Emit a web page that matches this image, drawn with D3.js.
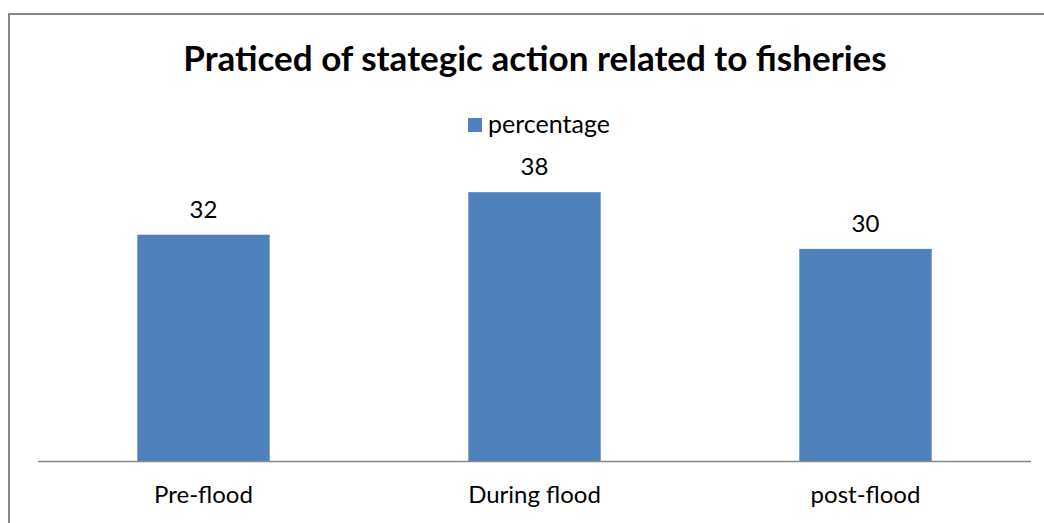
<!DOCTYPE html>
<html>
<head>
<meta charset="utf-8">
<script src="https://cdn.jsdelivr.net/npm/d3@7"></script>
<style>
  html, body { margin: 0; padding: 0; background: #fff; }
  svg { display: block; }
  text { font-family: Lato, "Open Sans", sans-serif; fill: #000; }
</style>
</head>
<body>
<svg id="chart" width="1044" height="523"></svg>
<script>
// Share of respondents practising strategic actions, by flood phase
const categories = ["Pre-flood", "During flood", "post-flood"];
const percentage = [32, 38, 30];
const seriesName = "percentage";
const titleText = "Praticed of stategic action related to fisheries";

const svg = d3.select("#chart");
const W = 1044, H = 523;

// outer chart frame (runs off the right and bottom edges)
svg.append("rect")
  .attr("x", 9).attr("y", 14)
  .attr("width", W + 20).attr("height", H + 20)
  .attr("fill", "#fff")
  .attr("stroke", "#868686")
  .attr("stroke-width", 2);

const plot = { left: 38, right: 1031, top: 178, bottom: 461.5 };

const x = d3.scaleBand()
  .domain(categories)
  .range([plot.left, plot.right])
  .paddingInner(0.6)
  .paddingOuter(0.3);

const y = d3.scaleLinear()
  .domain([0, 40])
  .range([plot.bottom, plot.top]);

const data = categories.map((c, i) => ({ cat: c, val: percentage[i] }));

// bars
svg.append("g").selectAll("rect")
  .data(data)
  .join("rect")
  .attr("x", d => x(d.cat))
  .attr("y", d => y(d.val))
  .attr("width", x.bandwidth())
  .attr("height", d => y(0) - y(d.val))
  .attr("fill", "#4F81BD");

// value labels
svg.append("g").selectAll("text")
  .data(data)
  .join("text")
  .attr("x", d => x(d.cat) + x.bandwidth() / 2)
  .attr("y", d => y(d.val) - 17)
  .attr("text-anchor", "middle")
  .attr("font-size", 24)
  .attr("fill", "#222")
  .text(d => d.val);

// category axis
const xAxis = svg.append("g")
  .attr("transform", `translate(0,${plot.bottom})`)
  .call(d3.axisBottom(x).tickSize(0).tickPadding(24).tickSizeOuter(0));
xAxis.select(".domain")
  .attr("stroke", "#868686")
  .attr("stroke-width", 1.3)
  .attr("d", `M${plot.left},0H${plot.right}`);
xAxis.selectAll("text")
  .attr("font-size", 24)
  .attr("fill", "#222")
  .attr("font-family", "Lato, 'Open Sans', sans-serif");

// title
svg.append("text")
  .attr("x", 535)
  .attr("y", 71)
  .attr("text-anchor", "middle")
  .attr("font-size", 35)
  .attr("font-weight", "bold")
  .text(titleText);

// legend
const legend = svg.append("g").attr("transform", "translate(468,118)");
legend.append("rect")
  .attr("width", 14).attr("height", 14)
  .attr("fill", "#4F81BD");
legend.append("text")
  .attr("x", 20).attr("y", 15)
  .attr("font-size", 25)
  .attr("fill", "#222")
  .text(seriesName);
</script>
</body>
</html>
